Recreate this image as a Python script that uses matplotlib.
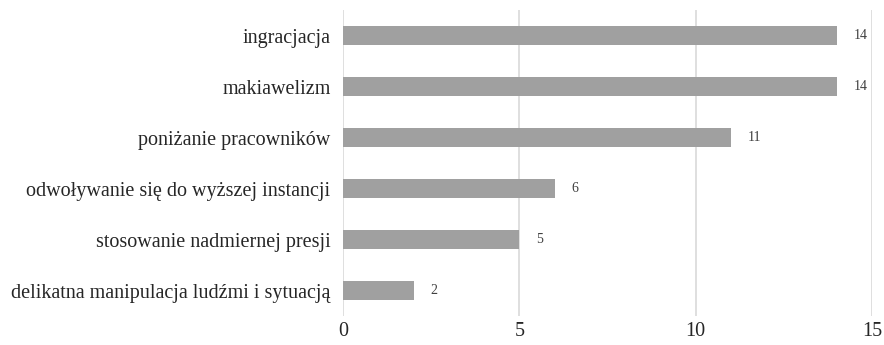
import matplotlib.pyplot as plt

categories = [
    'delikatna manipulacja ludźmi i sytuacją',
    'stosowanie nadmiernej presji',
    'odwoływanie się do wyższej instancji',
    'poniżanie pracowników',
    'makiawelizm',
    'ingracjacja',
]
counts = [2, 5, 6, 11, 14, 14]
x_ticks = [0, 5, 10, 15]

plt.rcParams['font.family'] = ['Liberation Serif', 'DejaVu Serif']

fig = plt.figure(figsize=(8.84, 3.45), dpi=100)
ax = fig.add_axes([0.388, 0.084, 0.5984, 0.887])

ypos = range(len(categories))
bars = ax.barh(ypos, counts, height=0.36, color='#a0a0a0', zorder=3)

# value labels just to the right of each bar
for b, v in zip(bars, counts):
    ax.annotate(str(v), (b.get_width(), b.get_y() + b.get_height() / 2),
                xytext=(17, 0), textcoords='offset pixels',
                va='center', ha='left', fontsize=10, color='#404040')

ax.set_yticks(list(ypos))
ax.set_yticklabels(categories, fontsize=14.5, color='#262626')
ax.set_xticks(x_ticks)
ax.set_xticklabels([str(t) for t in x_ticks], fontsize=14.5, color='#262626')
ax.set_xlim(0, 15)
ax.set_ylim(-0.5, len(categories) - 0.5)

ax.grid(axis='x', color='#d9d9d9', linewidth=1.2, zorder=0)
for s in ax.spines.values():
    s.set_visible(False)
ax.tick_params(axis='both', length=0)
ax.tick_params(axis='y', pad=9)
ax.tick_params(axis='x', pad=4)

fig.savefig('out.png', dpi=100)
